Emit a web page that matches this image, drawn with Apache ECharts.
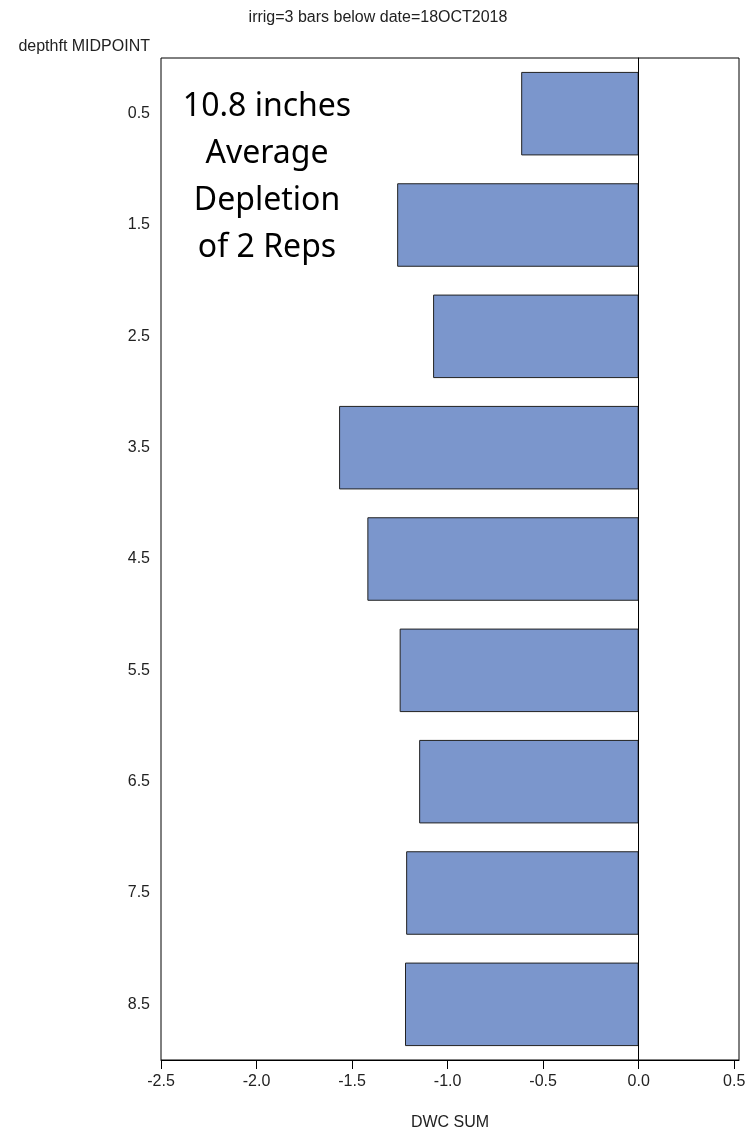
<!DOCTYPE html>
<html>
<head>
<meta charset="utf-8">
<script src="https://cdn.jsdelivr.net/npm/echarts@6/dist/echarts.min.js"></script>
<style>
    html, body { margin: 0; padding: 0; background: #fff; }
    #main { width: 756px; height: 1136px; }
</style>
</head>
<body>
<div id="main"></div>
<script>
    // depth midpoints (ft) and summed DWC per depth
    var depthMidpoints = ['0.5', '1.5', '2.5', '3.5', '4.5', '5.5', '6.5', '7.5', '8.5'];
    var dwcSum = [-0.615, -1.264, -1.076, -1.568, -1.420, -1.251, -1.149, -1.217, -1.223];
    var xTicks = [-2.5, -2.0, -1.5, -1.0, -0.5, 0.0, 0.5];
    var noteLines = ['10.8 inches', 'Average', 'Depletion', 'of 2 Reps'];

    var myChart = echarts.init(document.getElementById('main'));
    var txt = '#222';
    var option = {
        animation: false,
        title: {
            text: 'irrig=3 bars below date=18OCT2018',
            left: 'center',
            top: 5,
            textStyle: { fontFamily: 'Liberation Sans', fontSize: 16, fontWeight: 'normal', color: txt }
        },
        grid: {
            left: 161, right: 17, top: 58, bottom: 74,
            show: true, borderColor: '#000', borderWidth: 1
        },
        xAxis: {
            type: 'value',
            min: -2.5,
            max: 0.525,
            name: 'DWC SUM',
            nameLocation: 'middle',
            nameGap: 55,
            nameTextStyle: { fontFamily: 'Liberation Sans', fontSize: 16, color: txt },
            axisLine: { show: true, lineStyle: { color: '#000' } },
            axisTick: { show: true, length: 9, customValues: xTicks, lineStyle: { color: '#000' } },
            axisLabel: {
                customValues: xTicks,
                margin: 14,
                fontFamily: 'Liberation Sans', fontSize: 16, color: txt,
                formatter: function (v) { return v.toFixed(1); }
            },
            splitLine: { show: false }
        },
        yAxis: {
            type: 'category',
            inverse: true,
            data: depthMidpoints,
            axisLine: { show: true, lineStyle: { color: '#000' } },
            axisTick: { show: false },
            axisLabel: { margin: 11, fontFamily: 'Liberation Sans', fontSize: 16, color: txt }
        },
        graphic: [{
            type: 'text',
            x: 150,
            y: 47,
            style: {
                text: 'depthft MIDPOINT',
                align: 'right',
                verticalAlign: 'middle',
                fontFamily: 'Liberation Sans',
                fontSize: 16,
                fill: txt
            }
        }, {
            type: 'text',
            x: 267,
            y: 83,
            style: {
                text: noteLines.join('\n'),
                align: 'center',
                verticalAlign: 'top',
                fontFamily: 'Noto Sans',
                fontSize: 32,
                lineHeight: 47,
                fill: '#000'
            }
        }],
        series: [{
            type: 'bar',
            data: dwcSum,
            barCategoryGap: '25%',
            itemStyle: { color: '#7b96cc', borderColor: '#222', borderWidth: 1 },
            markLine: {
                silent: true,
                symbol: 'none',
                label: { show: false },
                lineStyle: { color: '#000', width: 1, type: 'solid' },
                data: [{ xAxis: 0 }]
            }
        }]
    };
    myChart.setOption(option);
</script>
</body>
</html>
